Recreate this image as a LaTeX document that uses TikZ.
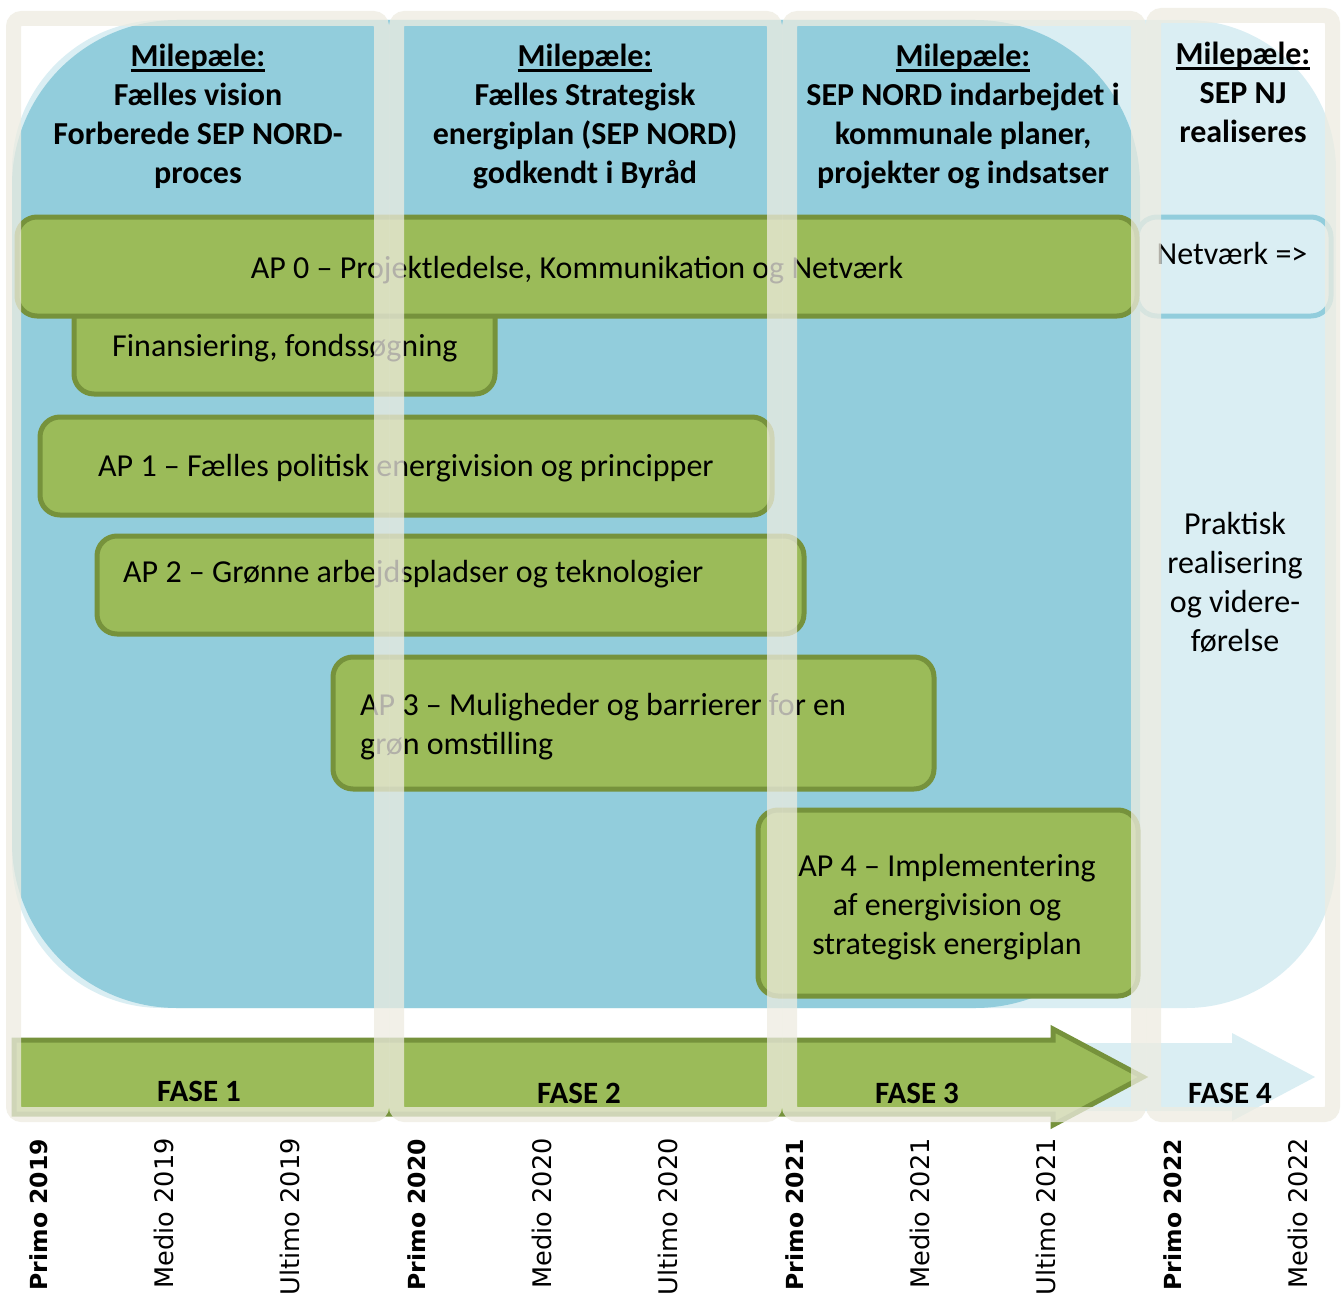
\documentclass[tikz,border=0pt]{standalone}
\usepackage{fontspec}
\setmainfont{Carlito}
\newfontfamily\datefont{DejaVu Sans}
\definecolor{darkblue}{HTML}{92CDDC}
\definecolor{lightblue}{HTML}{DAEEF3}
\definecolor{greenfill}{HTML}{9BBB59}
\definecolor{greenline}{HTML}{76923C}
\definecolor{framecol}{HTML}{EEECE1}
\newcommand\topstrut{\rule{0pt}{30pt}}
\newcommand\myul[1]{\setbox0\hbox{#1}\rlap{\rule[-5.5pt]{\wd0}{2.5pt}}\box0}
\begin{document}
\begin{tikzpicture}[x=1pt,y=-1pt,
  apbox/.style={draw=greenline, fill=greenfill, line width=5pt, rounded corners=20pt, inner sep=0pt},
  netbox/.style={draw=darkblue, fill=lightblue, line width=5pt, rounded corners=20pt, inner sep=0pt},
  txt/.style={font=\fontsize{32}{39}\selectfont, inner sep=0pt},
  hdr/.style={font=\bfseries\fontsize{32}{39}\selectfont, inner sep=0pt, align=center, anchor=north},
  fase/.style={font=\bfseries\fontsize{31}{36}\selectfont, inner sep=0pt, anchor=base},
  datelbl/.style={rotate=90, anchor=base east, inner sep=0pt},
  datereg/.style={datelbl, font=\datefont\fontsize{25.6}{30}\selectfont},
  datebold/.style={datelbl, font=\datefont\bfseries\fontsize{23.5}{28}\selectfont},
  frame/.style={draw=framecol, draw opacity=0.75, line width=15pt, rounded corners=8pt}
]
\useasboundingbox (0,0) rectangle (1341,1298);
\fill[white] (0,0) rectangle (1341,1298);

% background blue areas
\fill[lightblue, rounded corners=150pt] (12,20) rectangle (1336,1008);
\fill[darkblue, rounded corners=165pt] (12,20) rectangle (1140,1008);

% phase arrows
\fill[lightblue] (1050,1043) -- (1232,1043) -- (1232,1033) -- (1315,1077) -- (1232,1121) -- (1232,1111) -- (1050,1111) -- cycle;
\filldraw[fill=greenfill, draw=greenline, line width=5pt] (14,1040) -- (1053,1040) -- (1053,1029) -- (1143,1077) -- (1053,1125) -- (1053,1114) -- (14,1114) -- cycle;

% headers
\node[hdr] (h1) at (198,36) {\topstrut\myul{Milepæle:}\\Fælles vision\\Forberede SEP NORD-\\proces};
\node[hdr] (h2) at (585,36) {\topstrut\myul{Milepæle:}\\Fælles Strategisk\\energiplan (SEP NORD)\\godkendt i Byråd};
\node[hdr] (h3) at (963,36) {\topstrut\myul{Milepæle:}\\SEP NORD indarbejdet i\\kommunale planer,\\projekter og indsatser};
\node[hdr] (h4) at (1243,34) {\topstrut\myul{Milepæle:}\\SEP NJ\\realiseres};

% work package boxes
\node[netbox, minimum width=194pt, minimum height=99pt] (net) at (1234,266.5) {};
\node[apbox, minimum width=421pt, minimum height=101pt] (fin) at (284.5,343.5) {};
\node[apbox, minimum width=1120pt, minimum height=99pt] (ap0) at (577,266.5) {};
\node[apbox, minimum width=732pt, minimum height=98pt] (ap1) at (406,466) {};
\node[apbox, minimum width=707pt, minimum height=98pt] (ap2) at (450.5,585) {};
\node[apbox, minimum width=601pt, minimum height=132pt] (ap3) at (633.5,723) {};
\node[apbox, minimum width=380pt, minimum height=186pt] (ap4) at (948,903) {};

% box texts
\node[txt, anchor=base] (ap0t) at (577,278) {AP 0 – Projektledelse, Kommunikation og Netværk};
\node[txt, anchor=base] (nett) at (1232,264) {Netværk =>};
\node[txt, anchor=base west] (fint) at (112,356) {Finansiering, fondssøgning};
\node[txt, anchor=base] (ap1t) at (406,476) {AP 1 – Fælles politisk energivision og principper};
\node[txt, anchor=base west] (ap2t) at (123,582) {AP 2 – Grønne arbejdspladser og teknologier};
\node[txt, align=left, anchor=north west] (ap3t) at (360,685) {\topstrut AP 3 – Muligheder og barrierer for en\\grøn omstilling};
\node[txt, align=center, anchor=north] (ap4t) at (947,846) {\topstrut AP 4 – Implementering\\af energivision og\\strategisk energiplan};
\node[txt, align=center, anchor=north] (prakt) at (1235,504) {\topstrut Praktisk\\realisering\\og videre-\\førelse};

% phase labels
\node[fase] (f1) at (199,1101) {FASE 1};
\node[fase] (f2) at (579,1103) {FASE 2};
\node[fase] (f3) at (917,1103) {FASE 3};
\node[fase] (f4) at (1230,1103) {FASE 4};

% column frames
\draw[frame] (13.5,18.5) rectangle (381.5,1114.5);
\draw[frame] (396.5,18.5) rectangle (774.5,1114.5);
\draw[frame] (789.5,18.5) rectangle (1138.5,1114.5);
\draw[frame] (1153.5,15.5) rectangle (1332.5,1114.5);

% timeline labels
\node[datebold] (d1) at (47,1139) {Primo 2019};
\node[datereg] (d2) at (173,1138) {Medio 2019};
\node[datereg] (d3) at (299,1138) {Ultimo 2019};
\node[datebold] (d4) at (425,1139) {Primo 2020};
\node[datereg] (d5) at (551,1138) {Medio 2020};
\node[datereg] (d6) at (677,1138) {Ultimo 2020};
\node[datebold] (d7) at (803,1139) {Primo 2021};
\node[datereg] (d8) at (929,1138) {Medio 2021};
\node[datereg] (d9) at (1055,1138) {Ultimo 2021};
\node[datebold] (d10) at (1181,1139) {Primo 2022};
\node[datereg] (d11) at (1307,1138) {Medio 2022};
\end{tikzpicture}
\end{document}
